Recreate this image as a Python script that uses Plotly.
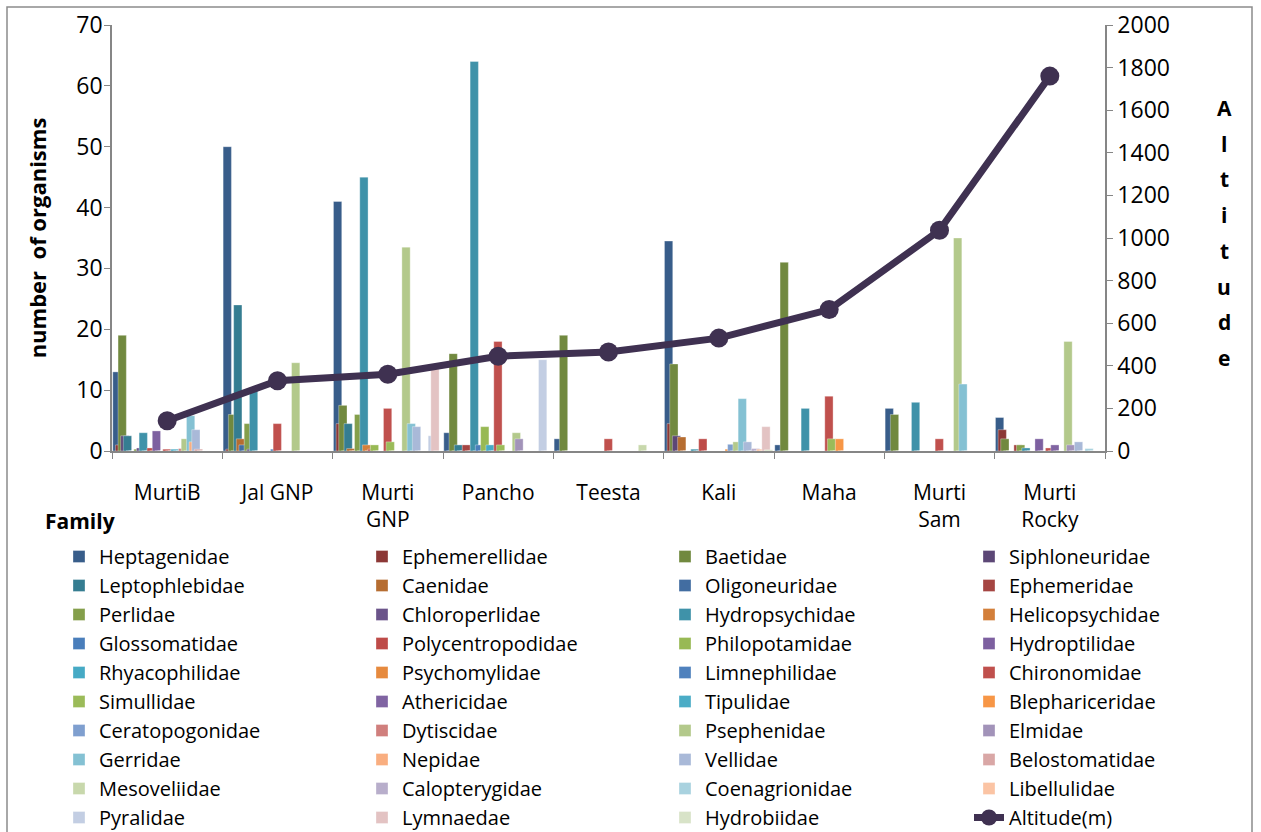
import plotly.graph_objects as go

# Sampling sites along the river (x categories)
sites = ["MurtiB", "Jal GNP", "Murti<br>GNP", "Pancho", "Teesta", "Kali", "Maha", "Murti<br>Sam", "Murti<br>Rocky"]

# Altitude of each site (m)
altitude = [142, 330, 360, 445, 465, 530, 664, 1036, 1760]

# Number of organisms per family at each site
heptagenidae      = [13, 50, 41, 3, 2, 34.5, 1, 7, 5.5]
ephemerellidae    = [1, 0.3, 4.5, 0, 0, 4.5, 0, 0, 3.5]
baetidae          = [19, 6, 7.5, 16, 19, 14.3, 31, 6, 2]
siphloneuridae    = [2.5, 0, 0, 0, 0, 2.5, 0, 0, 0]
leptophlebidae    = [2.5, 24, 4.5, 1, 0, 0, 0, 0, 0]
caenidae          = [0, 2, 0.4, 0, 0, 2.3, 0, 0, 0]
oligoneuridae     = [0, 1, 0, 0, 0, 0, 0, 0, 0]
ephemeridae       = [0, 0, 0, 1, 0, 0, 0, 0, 1]
perlidae          = [0.3, 4.5, 6, 0, 0, 0, 0, 0, 1]
chloroperlidae    = [0.5, 0.3, 0, 0, 0, 0, 0, 0, 0]
hydropsychidae    = [3, 10, 45, 64, 0, 0.3, 7, 8, 0.5]
helicopsychidae   = [0, 0, 1, 0, 0, 0, 0, 0, 0]
glossomatidae     = [0, 0, 0, 1, 0, 0, 0, 0, 0]
polycentropodidae = [0.5, 0, 0.3, 0, 0, 2, 0, 0, 0]
philopotamidae    = [0, 0, 1, 4, 0, 0, 0, 0, 0]
hydroptilidae     = [3.3, 0, 0, 0, 0, 0, 0, 0, 2]
rhyacophilidae    = [0, 0, 0, 1, 0, 0, 0, 0, 0]
psychomylidae     = [0, 0, 0, 0, 0, 0, 0, 0, 0]
limnephilidae     = [0, 0.3, 0, 0, 0, 0, 0, 0, 0]
chironomidae      = [0.3, 4.5, 7, 18, 2, 0, 9, 2, 0.5]
simullidae        = [0, 0, 1.5, 1, 0, 0, 2, 0, 0]
athericidae       = [0, 0, 0, 0, 0, 0, 0, 0, 1]
tipulidae         = [0.3, 0, 0, 0, 0, 0, 0, 0, 0]
blephariceridae   = [0, 0, 0, 0, 0, 0.3, 2, 0, 0]
ceratopogonidae   = [0, 0, 0, 0, 0, 1.1, 0, 0, 0]
dytiscidae        = [0.4, 0, 0, 0, 0, 0, 0, 0, 0]
psephenidae       = [2, 14.5, 33.5, 3, 0, 1.5, 0, 35, 18]
elmidae           = [0, 0, 0, 2, 0, 0, 0, 0, 1]
gerridae          = [5.8, 0, 4.5, 0, 0, 8.6, 0, 11, 0]
nepidae           = [1.5, 0, 0, 0, 0, 0, 0, 0, 0]
vellidae          = [3.5, 0, 4, 0, 0, 1.5, 0, 0, 1.5]
belostomatidae    = [0.3, 0, 0, 0, 0, 0, 0, 0, 0]
mesoveliidae      = [0, 0, 0, 0, 1, 0, 0, 0, 0]
calopterygidae    = [0, 0, 0, 0, 0, 0.4, 0, 0, 0]
coenagrionidae    = [0, 0, 0, 0, 0, 0, 0, 0, 0.4]
libellulidae      = [0, 0, 0, 0, 0, 0.3, 0, 0, 0]
pyralidae         = [0, 0, 2.5, 15, 0, 0, 0, 0, 0]
lymnaedae         = [0, 0, 13.5, 0, 0, 4, 0, 0, 0]
hydrobiidae       = [0, 0, 0, 0, 0, 0.2, 0, 0, 0]

families = [
    ("Heptagenidae", heptagenidae, "#385D8A"),
    ("Ephemerellidae", ephemerellidae, "#8C3836"),
    ("Baetidae", baetidae, "#71893F"),
    ("Siphloneuridae", siphloneuridae, "#5C4776"),
    ("Leptophlebidae", leptophlebidae, "#357D91"),
    ("Caenidae", caenidae, "#B66D31"),
    ("Oligoneuridae", oligoneuridae, "#426DA1"),
    ("Ephemeridae", ephemeridae, "#A54542"),
    ("Perlidae", perlidae, "#849F4B"),
    ("Chloroperlidae", chloroperlidae, "#6B548A"),
    ("Hydropsychidae", hydropsychidae, "#3F92A9"),
    ("Helicopsychidae", helicopsychidae, "#D37F3A"),
    ("Glossomatidae", glossomatidae, "#4A7EBB"),
    ("Polycentropodidae", polycentropodidae, "#BE4B48"),
    ("Philopotamidae", philopotamidae, "#98B954"),
    ("Hydroptilidae", hydroptilidae, "#7D60A0"),
    ("Rhyacophilidae", rhyacophilidae, "#46AAC5"),
    ("Psychomylidae", psychomylidae, "#E68A3E"),
    ("Limnephilidae", limnephilidae, "#4F81BD"),
    ("Chironomidae", chironomidae, "#C0504D"),
    ("Simullidae", simullidae, "#9BBB59"),
    ("Athericidae", athericidae, "#8064A2"),
    ("Tipulidae", tipulidae, "#4BACC6"),
    ("Blephariceridae", blephariceridae, "#F79646"),
    ("Ceratopogonidae", ceratopogonidae, "#7F9FCF"),
    ("Dytiscidae", dytiscidae, "#D07F7D"),
    ("Psephenidae", psephenidae, "#B3C98B"),
    ("Elmidae", elmidae, "#A293B9"),
    ("Gerridae", gerridae, "#84C1D3"),
    ("Nepidae", nepidae, "#F9AE80"),
    ("Vellidae", vellidae, "#A9B9D8"),
    ("Belostomatidae", belostomatidae, "#D9A7A6"),
    ("Mesoveliidae", mesoveliidae, "#C8D8AC"),
    ("Calopterygidae", calopterygidae, "#B8AECB"),
    ("Coenagrionidae", coenagrionidae, "#A9D2DF"),
    ("Libellulidae", libellulidae, "#FBC4A4"),
    ("Pyralidae", pyralidae, "#C3CEE3"),
    ("Lymnaedae", lymnaedae, "#E3C3C3"),
    ("Hydrobiidae", hydrobiidae, "#D8E3C8"),
]

FONT = "Open Sans"
BAR_W = 0.0752      # each bar's width, in category units
BAR_STEP = 0.02385  # shift between consecutive families (bars overlap)
FIRST = -0.4928     # left edge of the first family's bar
N_COLS = 4          # legend is laid out in four columns, filled row by row
LEGEND_IDS = ["legend", "legend2", "legend3", "legend4"]

fig = go.Figure()
for i, (name, vals, color) in enumerate(families):
    fig.add_trace(go.Bar(
        x=sites, y=vals, name=name,
        width=BAR_W, offset=FIRST + i * BAR_STEP,
        marker=dict(color=color, line=dict(color="rgba(255,255,255,0.55)", width=0.6)),
        legend=LEGEND_IDS[i % N_COLS],
    ))

fig.add_trace(go.Scatter(
    x=sites, y=altitude, name="Altitude(m)", yaxis="y2",
    mode="lines+markers",
    line=dict(color="#3F3151", width=7),
    marker=dict(color="#3F3151", size=19),
    legend=LEGEND_IDS[len(families) % N_COLS],
))

# Plot-area geometry (pixels) used to place free text in paper coords
L, R, T, B = 112, 1105, 25, 451
W, H = R - L, B - T

def px_x(px):
    return (px - L) / W

def px_y(py):
    return (B - py) / H

annotations = []
for k, ch in enumerate("Altitude"):
    annotations.append(dict(
        text=f"<b>{ch}</b>", x=px_x(1224), y=px_y(108 + k * 35.7),
        xref="paper", yref="paper", showarrow=False,
        font=dict(family=FONT, size=21, color="black"),
        xanchor="center", yanchor="middle",
    ))
annotations.append(dict(
    text="<b>Family</b>", x=px_x(43), y=px_y(521),
    xref="paper", yref="paper", showarrow=False,
    font=dict(family=FONT, size=21, color="black"),
    xanchor="left", yanchor="middle",
))

legend_cols_px = [59, 362, 665, 969]
legends = {}
for lid, xpx in zip(LEGEND_IDS, legend_cols_px):
    legends[lid] = dict(
        orientation="v", x=px_x(xpx), y=px_y(537), xanchor="left", yanchor="top",
        font=dict(size=20), traceorder="normal",
        bgcolor="rgba(0,0,0,0)", borderwidth=0,
    )

fig.update_layout(
    width=1261, height=832,
    margin=dict(l=L, r=1261 - R, t=T, b=832 - B, pad=0, autoexpand=False),
    paper_bgcolor="white", plot_bgcolor="white",
    barmode="overlay",
    font=dict(family=FONT, size=21, color="black"),
    xaxis=dict(
        type="category", range=[-0.5, 8.5],
        showline=True, linecolor="#868686", linewidth=1.5,
        ticks="outside", tickson="boundaries", ticklen=6, tickcolor="#868686",
        tickfont=dict(size=21), ticklabelstandoff=22,
        showgrid=False,
    ),
    yaxis=dict(
        range=[0, 70], dtick=10, showgrid=False, zeroline=False,
        showline=True, linecolor="#868686", linewidth=1.5,
        ticks="outside", ticklen=6, tickcolor="#868686",
        tickfont=dict(size=23), ticklabelstandoff=-3,
        title=dict(text="<b>number  of organisms</b>", font=dict(size=22), standoff=24),
    ),
    yaxis2=dict(
        range=[0, 2000], dtick=200, overlaying="y", side="right",
        showgrid=False, zeroline=False,
        showline=True, linecolor="#868686", linewidth=1.5,
        ticks="outside", ticklen=6, tickcolor="#868686",
        tickfont=dict(size=23),
    ),
    showlegend=True,
    annotations=annotations,
    shapes=[dict(
        type="rect", xref="paper", yref="paper",
        x0=px_x(7), x1=px_x(1252), y0=px_y(845), y1=px_y(7),
        line=dict(color="#8C8C8C", width=1.5), layer="below",
    )],
    **legends,
)

fig.write_html("out.html")
